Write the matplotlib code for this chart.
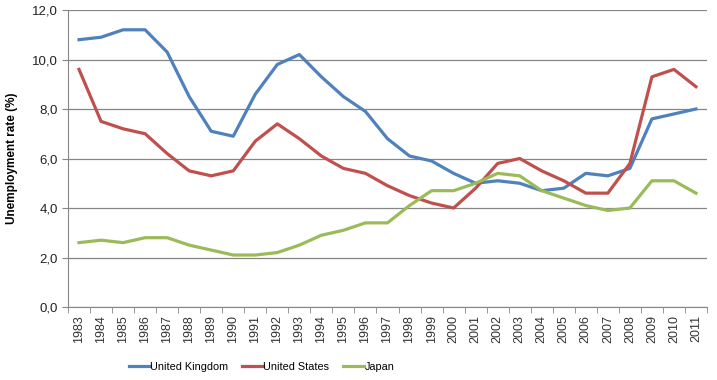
import matplotlib.pyplot as plt
from matplotlib.ticker import FixedLocator, FuncFormatter

years = list(range(1983, 2012))
uk = [10.8, 10.9, 11.2, 11.2, 10.3, 8.5, 7.1, 6.9, 8.6, 9.8, 10.2, 9.3, 8.5, 7.9, 6.8,
      6.1, 5.9, 5.4, 5.0, 5.1, 5.0, 4.7, 4.8, 5.4, 5.3, 5.6, 7.6, 7.8, 8.0]
us = [9.6, 7.5, 7.2, 7.0, 6.2, 5.5, 5.3, 5.5, 6.7, 7.4, 6.8, 6.1, 5.6, 5.4, 4.9,
      4.5, 4.2, 4.0, 4.8, 5.8, 6.0, 5.5, 5.1, 4.6, 4.6, 5.8, 9.3, 9.6, 8.9]
japan = [2.6, 2.7, 2.6, 2.8, 2.8, 2.5, 2.3, 2.1, 2.1, 2.2, 2.5, 2.9, 3.1, 3.4, 3.4,
         4.1, 4.7, 4.7, 5.0, 5.4, 5.3, 4.7, 4.4, 4.1, 3.9, 4.0, 5.1, 5.1, 4.6]

plt.rcParams['font.family'] = ['Liberation Sans', 'DejaVu Sans']

fig = plt.figure(figsize=(7.17, 3.8), dpi=100)
ax = fig.add_axes([68 / 717, 73 / 380, 639 / 717, 297 / 380])

x = list(range(len(years)))
ax.plot(x, uk, color='#4F81BD', lw=2.3, label='United Kingdom')
ax.plot(x, us, color='#C0504D', lw=2.3, label='United States')
ax.plot(x, japan, color='#9BBB59', lw=2.3, label='Japan')

ax.set_xlim(-0.5, len(years) - 0.5)
ax.set_ylim(0, 12)
ax.set_yticks([0, 2, 4, 6, 8, 10, 12])
ax.yaxis.set_major_formatter(FuncFormatter(lambda v, p: f'{v:.1f}'.replace('.', ',')))
ax.set_xticks(x)
ax.set_xticklabels([str(y) for y in years], rotation=90)
ax.xaxis.set_minor_locator(FixedLocator([i - 0.5 for i in range(len(years) + 1)]))
ax.tick_params(axis='x', which='major', length=0, pad=6, labelsize=9, colors='#333333')
ax.tick_params(axis='x', which='minor', length=4, color='#868686')
ax.tick_params(axis='y', length=4, color='#868686', labelsize=9.5, labelcolor='#222222')

ax.grid(axis='y', color='#868686', lw=0.9)
ax.set_axisbelow(True)
for s in ['top', 'right']:
    ax.spines[s].set_visible(False)
for s in ['left', 'bottom']:
    ax.spines[s].set_color('#868686')

ax.set_ylabel('Unemployment rate (%)', fontsize=8.5, fontweight='bold', labelpad=10)

fig.legend(loc='lower center', bbox_to_anchor=(0.365, -0.005), ncol=3, frameon=False,
           fontsize=7.8, handlelength=1.9, handletextpad=0.05, columnspacing=1.3)

fig.savefig('out.png', dpi=100, facecolor='white')
